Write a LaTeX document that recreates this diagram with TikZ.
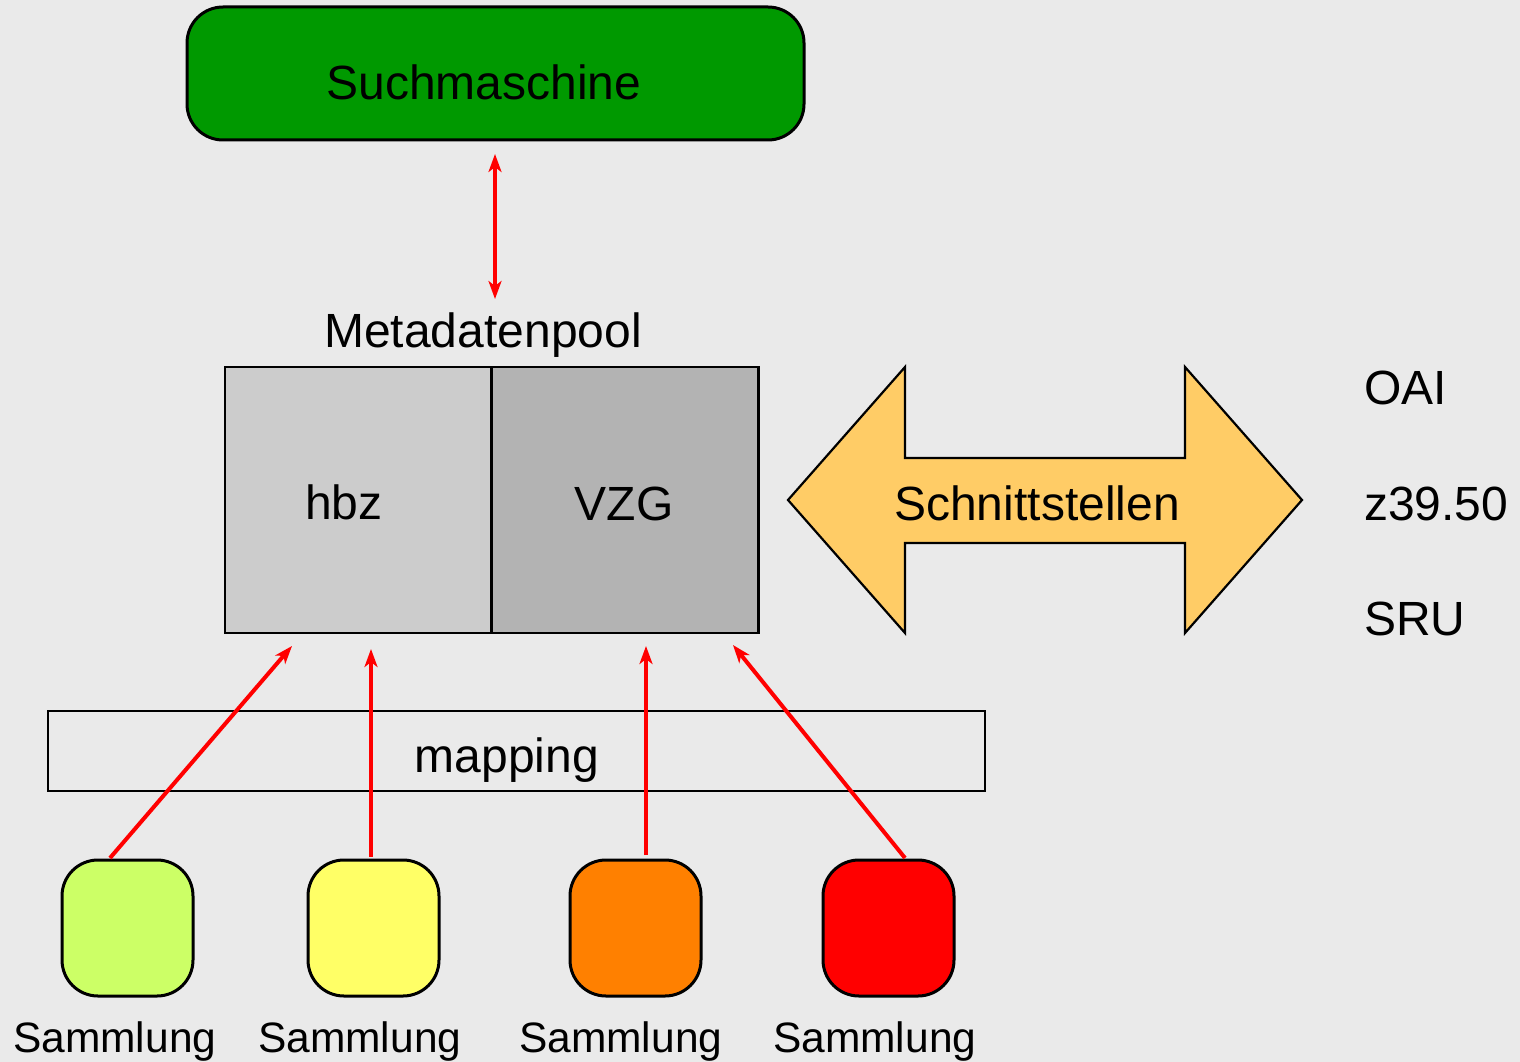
\documentclass[tikz,border=0pt]{standalone}
\usepackage{fontspec}
\setmainfont{Liberation Sans}
\usetikzlibrary{arrows.meta}
\definecolor{bg}{HTML}{EAEAEA}
\definecolor{suchgreen}{HTML}{009900}
\definecolor{hbzgray}{HTML}{CCCCCC}
\definecolor{vzggray}{HTML}{B3B3B3}
\definecolor{schnitt}{HTML}{FFCC66}
\definecolor{sgreen}{HTML}{CCFF66}
\definecolor{syellow}{HTML}{FFFF66}
\definecolor{sorange}{HTML}{FF8000}
\definecolor{sred}{HTML}{FF0000}
\begin{document}
\begin{tikzpicture}[x=1pt,y=-1pt,
  lbl/.style={inner sep=0pt,anchor=base,font=\fontsize{48}{58}\selectfont},
  slbl/.style={inner sep=0pt,anchor=base west,font=\fontsize{42.5}{50}\selectfont},
  sidelbl/.style={inner sep=0pt,anchor=base west,font=\fontsize{48}{58}\selectfont},
  roundbox/.style={draw=black,line width=3pt,rounded corners=36pt,inner sep=0pt},
  poolbox/.style={draw=black,line width=2.5pt,inner sep=0pt,minimum width=267pt,minimum height=266pt},
  samm/.style={roundbox,minimum width=131pt,minimum height=136pt},
  redarrow/.style={draw=red,line width=4pt,-{Stealth[length=18pt,width=13pt,inset=5pt]}},
  redboth/.style={draw=red,line width=4pt,{Stealth[length=18pt,width=13pt,inset=5pt]}-{Stealth[length=18pt,width=13pt,inset=5pt]}}
]
\fill[bg] (0,0) rectangle (1520,1062);
\useasboundingbox (0,0) rectangle (1520,1062);

% Suchmaschine
\node[roundbox,fill=suchgreen,minimum width=617pt,minimum height=133pt] (such) at (495.5,73.5) {};
\node[lbl] (suchtxt) at (484,100) {Suchmaschine};

% Metadatenpool
\node[lbl] (pooltxt) at (483,347) {Metadatenpool};
\node[poolbox,fill=hbzgray] (hbz) at (358.5,500) {};
\node[poolbox,fill=vzggray] (vzg) at (625,500) {};
\node[lbl] (hbztxt) at (344,519) {hbz};
\node[lbl] (vzgtxt) at (624,520) {VZG};

% arrow Suchmaschine <-> pool
\coordinate (sa) at (495,154);
\coordinate (sb) at (495,299);
\draw[redboth] (sa) -- (sb);

% Schnittstellen double arrow
\draw[fill=schnitt,draw=black,line width=2.2pt,line join=miter]
  (788,500) -- (905,367) -- (905,458) -- (1185,458) -- (1185,367) -- (1302,500)
  -- (1185,633) -- (1185,543) -- (905,543) -- (905,633) -- cycle;
\node[lbl] (schtxt) at (1037,520) {Schnittstellen};

\node[sidelbl] (oai) at (1364,404) {OAI};
\node[sidelbl] (z39) at (1364,520) {z39.50};
\node[sidelbl] (sru) at (1364,635) {SRU};

% mapping
\draw[black,line width=2.2pt] (48,711) rectangle (985,791);
\node[lbl] (maptxt) at (507,772) {mapping};

% Sammlungen
\node[samm,fill=sgreen] (s1) at (127.5,928) {};
\node[samm,fill=syellow] (s2) at (373.5,928) {};
\node[samm,fill=sorange] (s3) at (635.5,928) {};
\node[samm,fill=sred] (s4) at (888.5,928) {};

\node[slbl] (l1) at (13,1052) {Sammlung};
\node[slbl] (l2) at (258,1052) {Sammlung};
\node[slbl] (l3) at (519,1052) {Sammlung};
\node[slbl] (l4) at (773,1052) {Sammlung};

% arrows from Sammlungen
\coordinate (a1s) at (110,858);
\coordinate (a1e) at (292,646);
\coordinate (a2s) at (371,857);
\coordinate (a2e) at (371,649);
\coordinate (a3s) at (646,855);
\coordinate (a3e) at (646,646);
\coordinate (a4s) at (905,858);
\coordinate (a4e) at (733,645);
\draw[redarrow] (a1s) -- (a1e);
\draw[redarrow] (a2s) -- (a2e);
\draw[redarrow] (a3s) -- (a3e);
\draw[redarrow] (a4s) -- (a4e);
\end{tikzpicture}
\end{document}
